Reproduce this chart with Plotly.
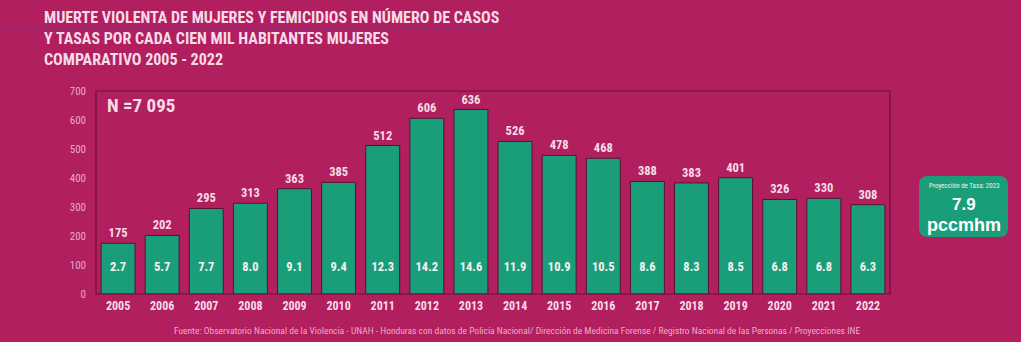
import plotly.graph_objects as go

years = ["2005", "2006", "2007", "2008", "2009", "2010", "2011", "2012", "2013",
         "2014", "2015", "2016", "2017", "2018", "2019", "2020", "2021", "2022"]
cases = [175, 202, 295, 313, 363, 385, 512, 606, 636, 526, 478, 468, 388, 383, 401, 326, 330, 308]
rates = [2.7, 5.7, 7.7, 8.0, 9.1, 9.4, 12.3, 14.2, 14.6, 11.9, 10.9, 10.5, 8.6, 8.3, 8.5, 6.8, 6.8, 6.3]

BG = "#B21F5E"
BAR = "#1A9E7A"
LIGHT = "#F6DCE8"
FONT = "'Roboto Condensed', 'Liberation Sans', sans-serif"
FONTW = "'Liberation Sans', Arial, sans-serif"

W, H = 1021, 342
L, R, T, B = 96, 131, 91, 48
PW, PH = W - L - R, H - T - B


def px(x):
    return (x - L) / PW


def py(y):
    return (H - B - y) / PH


def rounded_rect(x0, y0, x1, y1, r):
    X0, X1 = px(x0), px(x1)
    Y0, Y1 = py(y1), py(y0)
    rx, ry = r / PW, r / PH
    return (f"M {X0+rx},{Y1} L {X1-rx},{Y1} Q {X1},{Y1} {X1},{Y1-ry} "
            f"L {X1},{Y0+ry} Q {X1},{Y0} {X1-rx},{Y0} L {X0+rx},{Y0} "
            f"Q {X0},{Y0} {X0},{Y0+ry} L {X0},{Y1-ry} Q {X0},{Y1} {X0+rx},{Y1} Z")


fig = go.Figure()
fig.add_trace(go.Bar(
    x=years, y=cases, width=0.77,
    marker=dict(color=BAR, line=dict(color="#5A1030", width=1)),
    text=[f"<b>{v}</b>" for v in cases], textposition="outside",
    textfont=dict(family=FONT, size=12.5, color=LIGHT),
    cliponaxis=False, hoverinfo="skip",
))
RATE_Y = 89
fig.add_trace(go.Scatter(
    x=years, y=[RATE_Y] * len(years), mode="text",
    text=[f"<b>{r:.1f}</b>" for r in rates],
    textfont=dict(family=FONT, size=12.5, color="#F2F2F2"),
    hoverinfo="skip",
))

fig.update_layout(
    width=W, height=H,
    paper_bgcolor=BG, plot_bgcolor=BG,
    margin=dict(l=L, r=R, t=T, b=B),
    showlegend=False,
    font=dict(family=FONT),
    xaxis=dict(range=[-0.5, 17.5], showgrid=False, zeroline=False, showline=False,
               ticks="", tickfont=dict(family=FONT, size=12, color=LIGHT, weight="bold"),
               ticklabelstandoff=3),
    yaxis=dict(range=[0, 700], dtick=100, showgrid=False, zeroline=False, showline=False,
               ticks="", tickfont=dict(family=FONT, size=11, color="#E9A9C4"),
               ticklabelstandoff=9),
    shapes=[
        dict(type="rect", xref="paper", yref="paper", x0=0, x1=1, y0=0, y1=1,
             line=dict(color="#6A1236", width=1.2)),
        dict(type="line", xref="paper", yref="paper", x0=px(0), x1=px(495),
             y0=py(29), y1=py(29), line=dict(color="#7A3A8C", width=1)),
        dict(type="path", xref="paper", yref="paper",
             path=rounded_rect(919, 176, 1008, 237, 9),
             fillcolor=BAR, line=dict(color=BAR, width=0), layer="above"),
    ],
    annotations=[
        dict(text="<b>MUERTE VIOLENTA DE MUJERES Y FEMICIDIOS EN NÚMERO DE CASOS<br>"
                  "Y TASAS POR CADA CIEN MIL HABITANTES MUJERES<br>COMPARATIVO 2005 - 2022</b>",
             xref="paper", yref="paper", x=px(42), y=py(6), xanchor="left", yanchor="top",
             align="left", showarrow=False,
             font=dict(family=FONT, size=16, color=LIGHT)),
        dict(text="<b>N =7 095</b>", xref="paper", yref="paper", x=px(105), y=py(92),
             xanchor="left", yanchor="top", showarrow=False,
             font=dict(family=FONT, size=19, color=LIGHT)),
        dict(text="Fuente: Observatorio Nacional de la Violencia - UNAH - Honduras con datos de Policía Nacional/ "
                  "Dirección de Medicina Forense / Registro Nacional de las Personas / Proyecciones INE",
             xref="paper", yref="paper", x=px(517), y=py(330), xanchor="center",
             yanchor="middle", showarrow=False,
             font=dict(family=FONT, size=9.5, color="#EFA9C6")),
        dict(text="Proyección de Tasa: 2023", xref="paper", yref="paper",
             x=px(964), y=py(186), xanchor="center", yanchor="middle", showarrow=False,
             font=dict(family=FONT, size=7, color="#E8F4EE")),
        dict(text="<b>7.9</b>", xref="paper", yref="paper",
             x=px(964), y=py(204), xanchor="center", yanchor="middle", showarrow=False,
             font=dict(family=FONTW, size=17, color="#FFFFFF")),
        dict(text="<b>pccmhm</b>", xref="paper", yref="paper",
             x=px(964), y=py(225), xanchor="center", yanchor="middle", showarrow=False,
             font=dict(family=FONTW, size=18, color="#FFFFFF")),
    ],
)

fig.write_html("out.html")
